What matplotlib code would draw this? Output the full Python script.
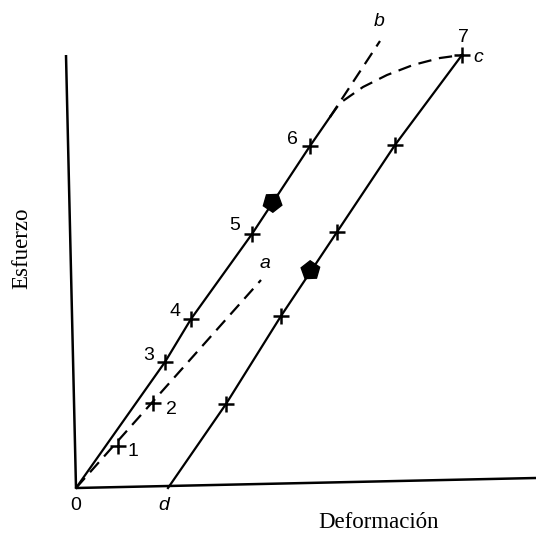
import matplotlib
matplotlib.use("Agg")
import matplotlib.pyplot as plt

# ---- data (strain, stress) in drawing units ----
axis_x_end = (460, 10)
axis_y_end = (-10, 433)

# loading line (elastic) 0 -> 3 -> 4 -> 5 -> 6 -> yield junction
load_x = [0, 89, 115, 176, 234, 254]
load_y = [0, 126, 169, 254, 342, 371]

# extension b (dashed)
b_x = [254, 304]
b_y = [371, 447]

# yield curve to point 7 / c (dashed)
curve_x = [254, 264, 287, 311, 337, 364, 386]
curve_y = [371, 385, 401, 413, 423, 430, 433]

# line a (dashed)
a_x = [0, 185]
a_y = [0, 208]

# unloading line c -> d
unload_x = [386, 319, 261, 205, 150, 92]
unload_y = [433, 343, 256, 172, 84, 0]

# numbered points
num_labels = ["1", "2", "3", "4", "5", "6", "7"]
num_x = [42, 77, 89, 115, 176, 234, 386]
num_y = [42, 85, 126, 169, 254, 342, 433]

# crosses on unloading line
unl_pts_x = [319, 261, 205, 150]
unl_pts_y = [343, 256, 172, 84]

# arrows (direction markers)
arrow_up = (196, 286)
arrow_down = (234, 218)

fig = plt.figure(figsize=(5.36, 5.34), dpi=100)
ax = fig.add_axes([0, 0, 1, 1])
ax.set_xlim(-76, 460)
ax.set_ylim(-46, 488)
ax.axis("off")

lw = 1.6
k = "black"
dash = (6, 3.5)
# axes
ax.plot([0, axis_x_end[0]], [0, axis_x_end[1]], color=k, lw=1.8, solid_capstyle="butt")
ax.plot([0, axis_y_end[0]], [0, axis_y_end[1]], color=k, lw=1.8, solid_capstyle="butt")

ax.plot(load_x, load_y, color=k, lw=lw)
ax.plot(b_x, b_y, color=k, lw=lw, dashes=dash)
ax.plot(curve_x, curve_y, color=k, lw=lw, dashes=dash)
ax.plot(a_x, a_y, color=k, lw=lw, dashes=dash)
ax.plot(unload_x, unload_y, color=k, lw=lw)

ax.plot(num_x, num_y, ls="none", marker="+", ms=11, mew=1.8, color=k)
ax.plot(unl_pts_x, unl_pts_y, ls="none", marker="+", ms=11, mew=1.8, color=k)

ax.plot([arrow_up[0]], [arrow_up[1]], marker=(5, 0, -34), ms=14, color=k, ls="none")
ax.plot([arrow_down[0]], [arrow_down[1]], marker=(5, 0, 146), ms=14, color=k, ls="none")

sans = "Liberation Sans"
fs = 14
offsets = [(15, -6), (18, -7), (-16, 6), (-16, 8), (-17, 8), (-18, 7), (1, 18)]
for lab, x, y, (dx, dy) in zip(num_labels, num_x, num_y, offsets):
    ax.text(x + dx, y + dy, lab, fontsize=fs, family=sans, ha="center", va="center")

ax.text(0, -17, "0", fontsize=fs, family=sans, ha="center", va="center")
ax.text(88, -17, "d", fontsize=fs, family=sans, style="italic", ha="center", va="center")
ax.text(402, 430, "c", fontsize=fs, family=sans, style="italic", ha="center", va="center")
ax.text(303, 467, "b", fontsize=fs, family=sans, style="italic", ha="center", va="center")
ax.text(189, 224, "a", fontsize=fs, family=sans, style="italic", ha="center", va="center")

serif = "Liberation Serif"
ax.text(-54, 240, "Esfuerzo", fontsize=16.5, family=serif, rotation=90, ha="center", va="center")
ax.text(303, -35, "Deformación", fontsize=16.5, family=serif, ha="center", va="center")

fig.savefig("out.png", dpi=100)
